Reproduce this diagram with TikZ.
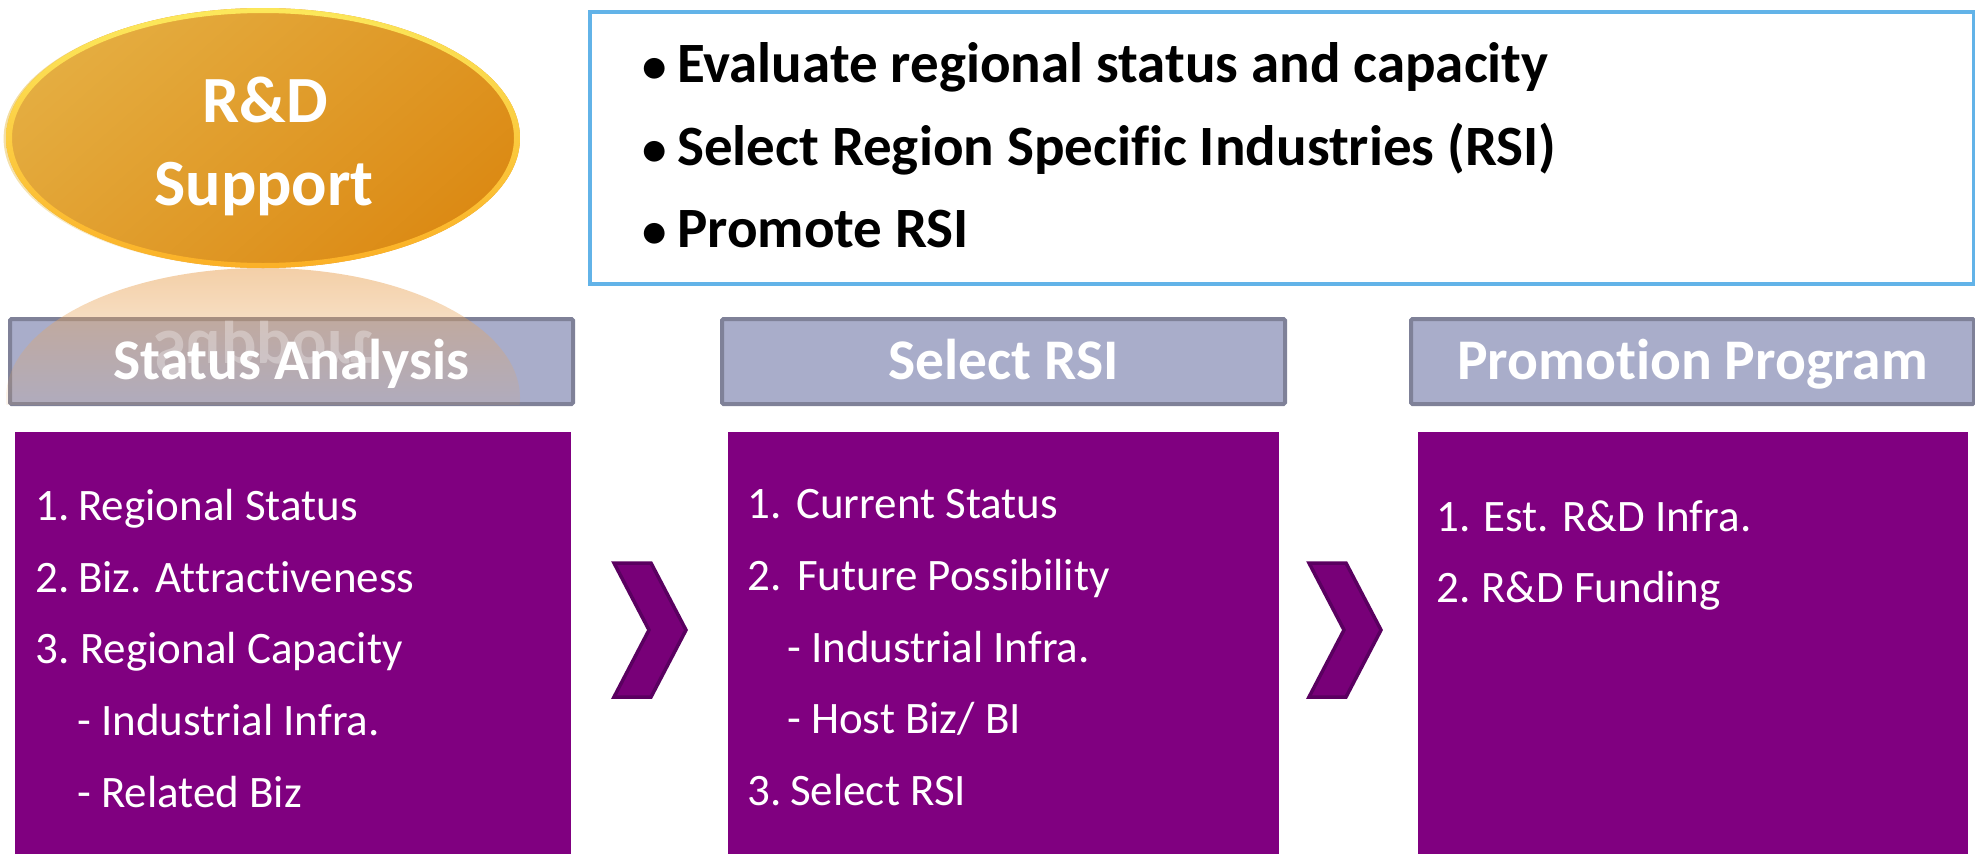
\documentclass[tikz,border=0pt]{standalone}
\usepackage{fontspec}
\setmainfont{Carlito}[Ligatures={NoCommon}]
\usepackage{graphicx}
\usetikzlibrary{shapes.geometric,fadings}
\definecolor{hdrfill}{HTML}{A9ADCA}
\definecolor{hdrline}{HTML}{7F8198}
\definecolor{purp}{HTML}{800080}
\definecolor{chevfill}{HTML}{780078}
\definecolor{chevline}{HTML}{5A0060}
\definecolor{bluebox}{HTML}{62B3E8}
\definecolor{orgC}{HTML}{DC8A14}
\definecolor{orgM}{HTML}{E0911A}
\definecolor{orgE}{HTML}{FCAA20}
\definecolor{yelE}{HTML}{FFF060}
\definecolor{rimB}{HTML}{FFB428}
\definecolor{hilite}{HTML}{EBC660}
\definecolor{refl}{HTML}{E9A55A}
\pgfdeclareradialshading{orb}{\pgfpoint{0bp}{0bp}}{color(0bp)=(orgC); color(38bp)=(orgC); color(44bp)=(orgM); color(48.3bp)=(orgE); color(50bp)=(yelE)}
\tikzfading[name=hlfade, left color=transparent!40, right color=transparent!100]
\tikzfading[name=reflfade, top color=transparent!35, bottom color=transparent!100]
\begin{document}
\begin{tikzpicture}[x=1pt,y=-1pt,
  hdr/.style={draw=hdrline, line width=4pt, fill=hdrfill, rounded corners=1.5pt, text=white,
    font=\fontsize{57.5}{60}\selectfont\bfseries, inner sep=0pt, minimum height=85pt,
    minimum width=563pt, text height=36pt, text depth=0pt},
  pbox/.style={fill=purp, inner sep=0pt, anchor=north west, minimum height=422pt},
  item/.style={text=white, font=\fontsize{45}{50}\selectfont, anchor=base west, inner sep=0pt},
  goal/.style={font=\fontsize{57}{60}\selectfont\bfseries, anchor=base west, inner sep=0pt},
  bul/.style={font=\fontsize{49}{60}\selectfont\bfseries, anchor=base west, inner sep=0pt},
  chev/.style={fill=chevfill, draw=chevline, line width=3.5pt, line join=miter},
  orbtext/.style={text=white, font=\fontsize{66}{80}\selectfont\bfseries, anchor=base, inner sep=0pt}
]
\useasboundingbox (0,0) rectangle (1975,854);

% goals box
\node[draw=bluebox, line width=4pt, minimum width=1384pt, minimum height=272pt,
      anchor=north west, inner sep=0pt] (goals) at (588,10) {};
\node[bul] (bu1) at (642,82) {\textbullet};
\node[goal] (g1) at (677,82) {Evaluate regional status and capacity};
\node[bul] (bu2) at (642,165) {\textbullet};
\node[goal] (g2) at (677,165) {Select Region Specific Industries (RSI)};
\node[bul] (bu3) at (642,247) {\textbullet};
\node[goal] (g3) at (677,247) {Promote RSI};

% orb
\node[ellipse, minimum width=514pt, minimum height=260pt, inner sep=0pt, shading=orb] (rd) at (263,138) {};
\fill[hilite, path fading=hlfade, fading angle=-30] (rd.center) ellipse [x radius=257, y radius=130];
\shade[top color=yelE, bottom color=rimB, even odd rule, opacity=0.9]
  (rd.center) ellipse [x radius=257, y radius=130]
  (rd.center) ellipse [x radius=251, y radius=125];
\node[orbtext] (rdt1) at (265,122) {R\&D};
\node[orbtext] (rdt2) at (264,205) {Support};

% headers
\node[hdr] (h1) at (291.5,361.5) {};
\node[hdr] (h2) at (1003.5,361.5) {Select RSI};
\node[hdr] (h3) at (1692.5,361.5) {Promotion Program};

% reflection of the orb
\begin{scope}
  \clip (0,268) rectangle (600,404);
  \clip (263,398) ellipse [x radius=257, y radius=130];
  \fill[refl, path fading=reflfade] (0,230) rectangle (600,440);
  \node[orbtext, opacity=0.3] (rdr) at (264,331) {\scalebox{1}[-1]{Support}};
\end{scope}
\node[text=white, font=\fontsize{57.5}{60}\selectfont\bfseries, inner sep=0pt,
      text height=36pt, text depth=0pt] (h1t) at (h1.center) {Status Analysis};

% purple boxes
\node[pbox, minimum width=556pt] (p1) at (15,432) {};
\node[pbox, minimum width=551pt] (p2) at (728,432) {};
\node[pbox, minimum width=550pt] (p3) at (1418,432) {};

\node[item] (p1a) at (35,520) {\makebox[43pt][l]{1.}Regional Status};
\node[item] (p1b) at (35,592) {\makebox[43pt][l]{2.}Biz. Attractiveness};
\node[item] (p1c) at (35,663) {\makebox[45pt][l]{3.}Regional Capacity};
\node[item] (p1d) at (77,735) {- Industrial Infra.};
\node[item] (p1e) at (77,807) {- Related Biz};

\node[item] (p2a) at (747,518) {\makebox[49pt][l]{1.}Current Status};
\node[item] (p2b) at (747,590) {\makebox[50pt][l]{2.}Future Possibility};
\node[item] (p2c) at (787,662) {- Industrial Infra.};
\node[item] (p2d) at (787,733) {- Host Biz/ BI};
\node[item] (p2e) at (747,805) {\makebox[43pt][l]{3.}Select RSI};

\node[item] (p3a) at (1436,531) {\makebox[47pt][l]{1.}Est. R\&D Infra.};
\node[item] (p3b) at (1436,602) {\makebox[45pt][l]{2.}R\&D Funding};

% chevrons
\draw[chev] (614,563) -- (651,563) -- (686,630) -- (651,697) -- (614,697) -- (649,630) -- cycle;
\draw[chev] (1309,563) -- (1346,563) -- (1381,630) -- (1346,697) -- (1309,697) -- (1344,630) -- cycle;
\end{tikzpicture}
\end{document}
